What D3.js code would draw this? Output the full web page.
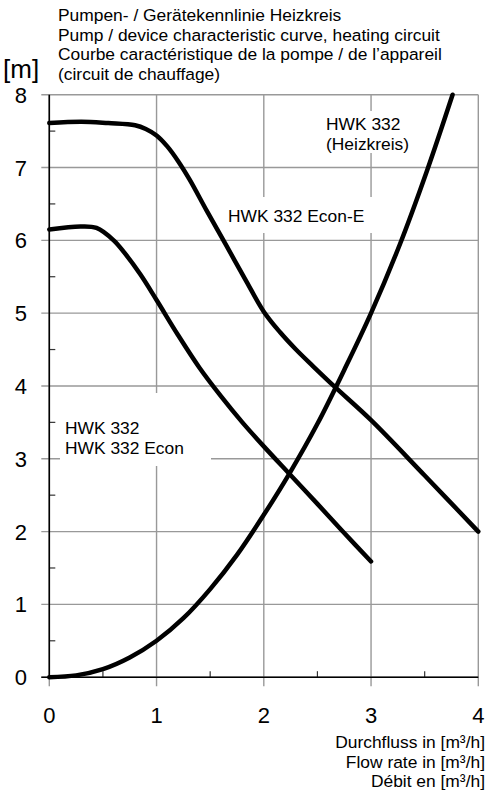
<!DOCTYPE html>
<html>

<head>
  <meta charset="utf-8">
  <title>Pumpenkennlinie HWK 332</title>
  <style>
    body { margin: 0; background: #fff; }
    text { font-family: "Liberation Sans", Arial, sans-serif; fill: #000; }
  </style>
</head>

<body>
  <svg width="486" height="793"></svg>
  <script src="https://d3js.org/d3.v7.min.js"></script>
  <script>
    // 1. Data
    var xTicks = [0, 1, 2, 3, 4];
    var yTicks = [0, 1, 2, 3, 4, 5, 6, 7, 8];
    var titleLines = [
      "Pumpen- / Gerätekennlinie Heizkreis",
      "Pump / device characteristic curve, heating circuit",
      "Courbe caractéristique de la pompe / de l’appareil",
      "(circuit de chauffage)"
    ];
    var xTitleLines = ["Durchfluss in [m³/h]", "Flow rate in [m³/h]", "Débit en [m³/h]"];

    // HWK 332 Econ-E pump curve [flow, head]
    var econE = [[0, 7.61], [0.3, 7.63], [0.55, 7.61], [0.8, 7.58], [0.9, 7.53], [1.0, 7.44],
      [1.1, 7.29], [1.2, 7.09], [1.31, 6.83], [1.47, 6.4], [1.65, 5.93], [1.84, 5.43], [2.0, 5.02],
      [2.15, 4.74], [2.3, 4.5], [2.46, 4.27], [2.66, 3.99], [3.0, 3.53], [3.5, 2.77], [4.0, 2.0]];
    // HWK 332 / HWK 332 Econ pump curve
    var econ = [[0, 6.15], [0.29, 6.19], [0.44, 6.17], [0.6, 6.0], [0.7, 5.83], [0.85, 5.53],
      [1.0, 5.18], [1.2, 4.7], [1.4, 4.25], [1.6, 3.86], [1.8, 3.5], [2.0, 3.17], [2.24, 2.79],
      [2.5, 2.38], [2.75, 1.98], [3.0, 1.59]];
    // HWK 332 device curve (Heizkreis)
    var device = [[0, 0], [0.25, 0.025], [0.5, 0.11], [0.75, 0.27], [1.0, 0.5], [1.25, 0.81],
      [1.5, 1.21], [1.75, 1.68], [2.0, 2.23], [2.24, 2.8], [2.5, 3.48], [2.75, 4.22], [3.0, 5.0],
      [3.27, 5.95], [3.52, 6.95], [3.76, 8.0]];

    var curveLabels = [
      { lines: ["HWK 332", "(Heizkreis)"], x: 326, y: 130, box: [320, 111, 96, 42] },
      { lines: ["HWK 332 Econ-E"], x: 228, y: 222, box: [222, 197, 154, 36] },
      { lines: ["HWK 332", "HWK 332 Econ"], x: 65, y: 434, box: [60, 393, 151, 73] }
    ];

    // 2. Scales
    var svg = d3.select("svg");
    var x = d3.scaleLinear().domain([0, 4]).range([49.3, 478.3]);
    var y = d3.scaleLinear().domain([0, 8]).range([677.2, 94.7]);
    var grey = "#999";
    var small = 17.4;

    // grid lines (extend past the axes as ticks)
    svg.selectAll(".vgrid").data(xTicks).enter().append("line")
      .attr("x1", function (d) { return x(d); })
      .attr("x2", function (d) { return x(d); })
      .attr("y1", y(0) + 9).attr("y2", y(8))
      .attr("stroke", grey).attr("stroke-width", 1.4);
    svg.selectAll(".hgrid").data(yTicks).enter().append("line")
      .attr("x1", x(0) - 8).attr("x2", x(4))
      .attr("y1", function (d) { return y(d); })
      .attr("y2", function (d) { return y(d); })
      .attr("stroke", grey).attr("stroke-width", 1.4);

    // minor ticks at half steps, inside the plot
    svg.selectAll(".ymin").data(d3.range(0.5, 8, 1)).enter().append("line")
      .attr("x1", x(0)).attr("x2", x(0) + 6)
      .attr("y1", function (d) { return y(d); })
      .attr("y2", function (d) { return y(d); })
      .attr("stroke", "#333").attr("stroke-width", 1.2);
    svg.selectAll(".xmin").data(d3.range(0.5, 4, 1)).enter().append("line")
      .attr("x1", function (d) { return x(d); })
      .attr("x2", function (d) { return x(d); })
      .attr("y1", y(0)).attr("y2", y(0) - 6)
      .attr("stroke", "#333").attr("stroke-width", 1.2);

    // black axes
    svg.append("line").attr("x1", x(0)).attr("x2", x(0)).attr("y1", y(8)).attr("y2", y(0))
      .attr("stroke", "#000").attr("stroke-width", 1.6);
    svg.append("line").attr("x1", x(0) - 8).attr("x2", x(4)).attr("y1", y(0)).attr("y2", y(0))
      .attr("stroke", "#000").attr("stroke-width", 1.6);

    // white boxes behind curve labels
    svg.selectAll(".lblbox").data(curveLabels).enter().append("rect")
      .attr("x", function (d) { return d.box[0]; })
      .attr("y", function (d) { return d.box[1]; })
      .attr("width", function (d) { return d.box[2]; })
      .attr("height", function (d) { return d.box[3]; })
      .attr("fill", "#fff");

    // 3. Curves
    var line = d3.line()
      .x(function (d) { return x(d[0]); })
      .y(function (d) { return y(d[1]); })
      .curve(d3.curveCatmullRom.alpha(0.5));

    [econE, econ, device].forEach(function (s) {
      svg.append("path").datum(s)
        .attr("d", line)
        .attr("fill", "none")
        .attr("stroke", "#000")
        .attr("stroke-width", 4.5)
        .attr("stroke-linecap", "round")
        .attr("stroke-linejoin", "round");
    });

    // 4. Texts
    svg.selectAll(".ylab").data(yTicks).enter().append("text")
      .attr("x", 27).attr("y", function (d) { return y(d) + 8; })
      .attr("text-anchor", "end").attr("font-size", 22)
      .text(function (d) { return d; });
    svg.selectAll(".xlab").data(xTicks).enter().append("text")
      .attr("x", function (d) { return x(d); }).attr("y", 723)
      .attr("text-anchor", "middle").attr("font-size", 22)
      .text(function (d) { return d; });

    svg.append("text").attr("x", 3).attr("y", 78).attr("font-size", 26).text("[m]");

    svg.selectAll(".title").data(titleLines).enter().append("text")
      .attr("x", 58).attr("y", function (d, i) { return 21 + i * 19.6; })
      .attr("font-size", small).text(function (d) { return d; });

    svg.selectAll(".xtitle").data(xTitleLines).enter().append("text")
      .attr("x", 485).attr("y", function (d, i) { return 748 + i * 19.5; })
      .attr("text-anchor", "end").attr("font-size", small).text(function (d) { return d; });

    curveLabels.forEach(function (l) {
      l.lines.forEach(function (t, i) {
        svg.append("text").attr("x", l.x).attr("y", l.y + i * 19.5)
          .attr("font-size", small).text(t);
      });
    });
  </script>
</body>

</html>
